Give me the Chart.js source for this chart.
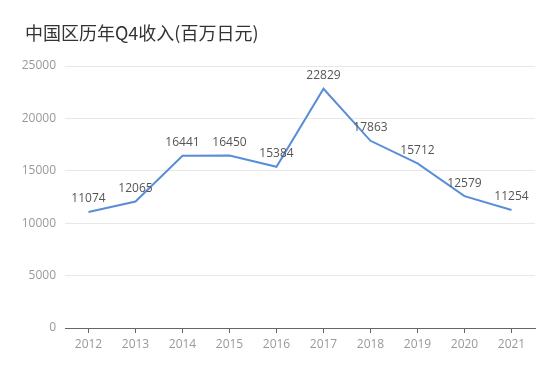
<!DOCTYPE html>
<html>
<head>
<meta charset="utf-8">
<script src="https://cdn.jsdelivr.net/npm/chart.js@4/dist/chart.umd.min.js"></script>
<style>
  html, body { margin: 0; padding: 0; background: #fff; }
  #wrap { width: 560px; height: 376px; position: relative; }
</style>
</head>
<body>
<div id="wrap"><canvas id="chartCanva"></canvas></div>
<script>
// 中国区历年Q4收入
const titleText = "中国区历年Q4收入(百万日元)";
const years = ["2012", "2013", "2014", "2015", "2016", "2017", "2018", "2019", "2020", "2021"];
const revenue = [11074, 12065, 16441, 16450, 15384, 22829, 17863, 15712, 12579, 11254];

// draws the value above each point and the title in the top left
const labelPlugin = {
    id: "pointLabels",
    afterDatasetsDraw(chart) {
        const ctx = chart.ctx;
        const meta = chart.getDatasetMeta(0);
        ctx.save();
        ctx.font = "12px 'Open Sans', 'Noto Sans', sans-serif";
        ctx.fillStyle = "#555";
        ctx.textAlign = "center";
        ctx.textBaseline = "middle";
        meta.data.forEach((pt, i) => {
            ctx.fillText(String(chart.data.datasets[0].data[i]), pt.x, pt.y - 13);
        });
        ctx.font = "18px 'Noto Sans CJK SC', sans-serif";
        ctx.fillStyle = "#333";
        ctx.textAlign = "left";
        ctx.fillText(titleText, 25, 33);
        ctx.restore();
    }
};

const config = {
    type: "line",
    data: {
        labels: years,
        datasets: [{
            data: revenue,
            borderColor: "#5a8dd8",
            borderWidth: 2,
            pointRadius: 0,
            pointHoverRadius: 0,
            tension: 0,
            fill: false
        }]
    },
    options: {
        responsive: false,
        animation: false,
        layout: { padding: { top: 66, right: 25, bottom: 0, left: 0 } },
        plugins: {
            legend: { display: false },
            tooltip: { enabled: false }
        },
        scales: {
            x: {
                offset: true,
                afterFit: (s) => { s.height = 48; },
                grid: {
                    offset: false,
                    drawOnChartArea: false,
                    drawTicks: true,
                    tickLength: 5,
                    color: "#666"
                },
                border: { color: "#666", width: 1 },
                ticks: {
                    color: "#999",
                    font: { size: 12, family: "'Open Sans', 'Noto Sans', sans-serif" },
                    padding: 4,
                    maxRotation: 0
                }
            },
            y: {
                min: 0,
                max: 25000,
                afterFit: (s) => { s.width = 65; },
                grid: { color: "#e8e8e8", drawTicks: false },
                border: { display: false },
                ticks: {
                    stepSize: 5000,
                    color: "#999",
                    font: { size: 12, family: "'Open Sans', 'Noto Sans', sans-serif" },
                    padding: 9,
                    callback: (v) => String(v)
                }
            }
        }
    },
    plugins: [labelPlugin]
};

const cv = document.getElementById("chartCanva");
cv.width = 560;
cv.height = 376;
const myChart = new Chart(cv, config);
</script>
</body>
</html>
